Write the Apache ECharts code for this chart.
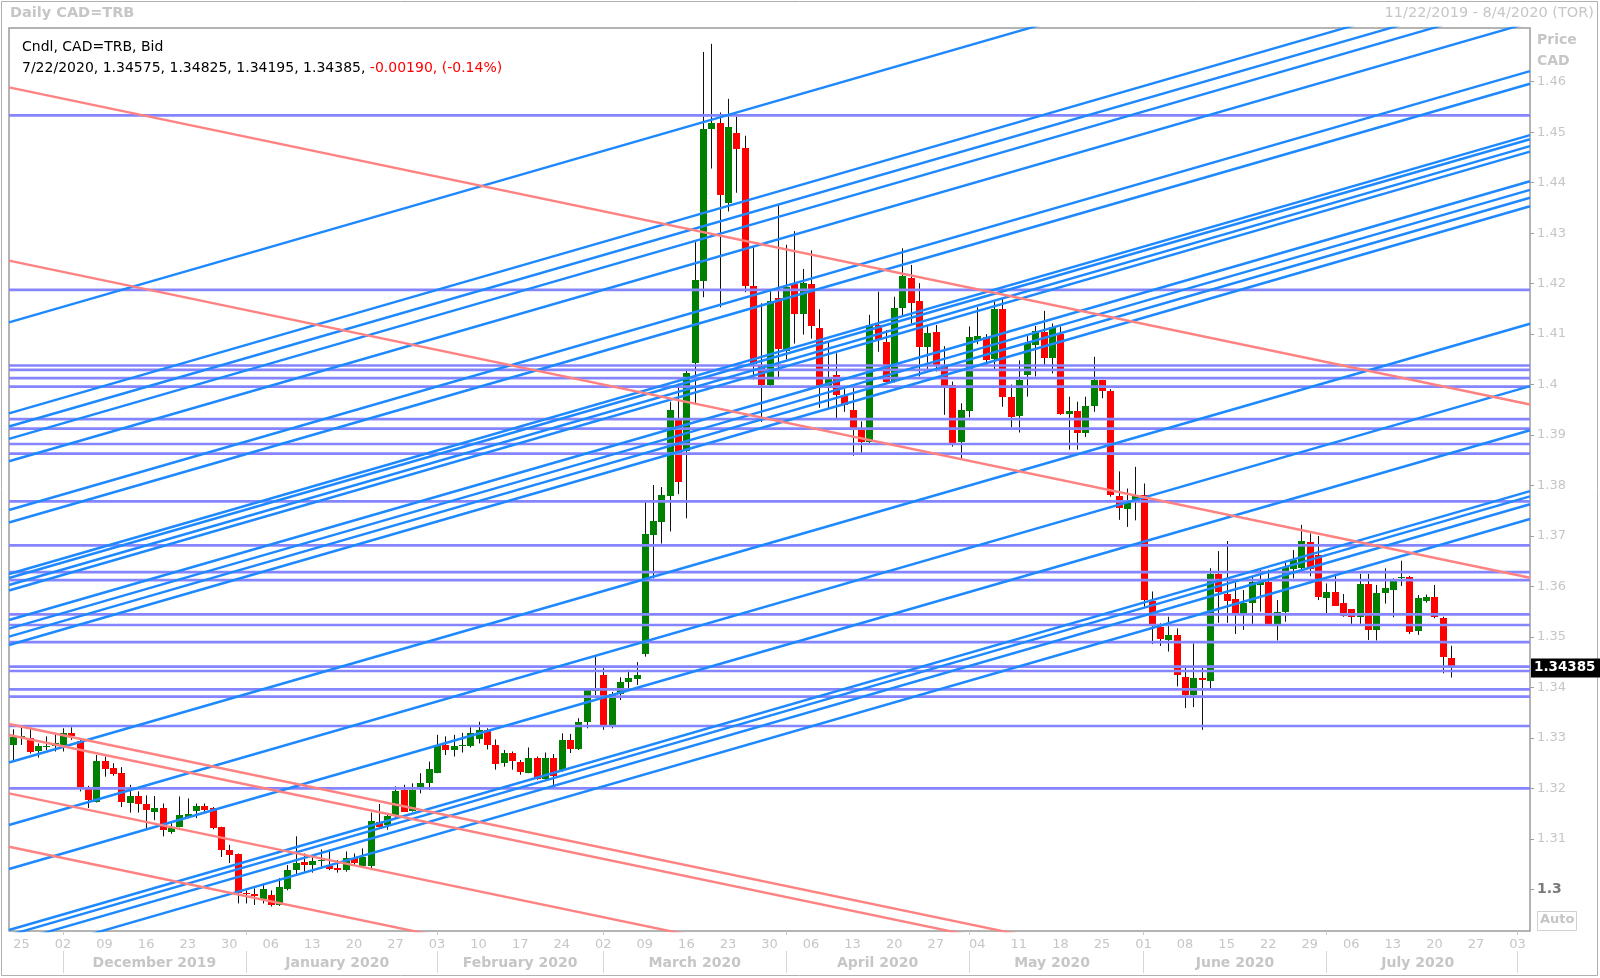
<!DOCTYPE html>
<html><head><meta charset="utf-8">
<script src="https://cdn.jsdelivr.net/npm/echarts@6/dist/echarts.min.js"></script>
<style>html,body{margin:0;padding:0;background:#fff}#c{width:1600px;height:978px}</style>
</head><body><div id="c"></div>
<script>
// ---------- DATA ----------
const opens = [1.3285,1.3302,1.3299,1.3273,1.3282,1.3283,1.3285,1.3309,1.3293,1.3198,1.3174,1.3255,1.3240,1.3230,1.3172,1.3185,1.3169,1.3154,1.3161,1.3114,1.3124,1.3145,1.3156,1.3166,1.3161,1.3123,1.3078,1.3070,1.2993,1.2990,1.2982,1.2989,1.2969,1.3000,1.3038,1.3055,1.3050,1.3058,1.3047,1.3043,1.3040,1.3062,1.3046,1.3046,1.3133,1.3128,1.3145,1.3197,1.3156,1.3202,1.3210,1.3231,1.3286,1.3276,1.3284,1.3284,1.3299,1.3316,1.3286,1.3250,1.3270,1.3253,1.3231,1.3261,1.3220,1.3261,1.3235,1.3295,1.3278,1.3330,1.3392,1.3425,1.3326,1.3387,1.3410,1.3418,1.3465,1.3703,1.3727,1.3779,1.3930,1.3867,1.4042,1.4205,1.4507,1.4518,1.4360,1.4499,1.4469,1.4196,1.4038,1.3998,1.4171,1.4066,1.4199,1.4140,1.4199,1.4113,1.3998,1.4018,1.3978,1.3949,1.3910,1.3886,1.4118,1.4085,1.4006,1.4151,1.4211,1.4166,1.4075,1.4104,1.4037,1.4000,1.3885,1.3947,1.4088,1.4094,1.4050,1.4149,1.3975,1.3938,1.4019,1.4079,1.4105,1.4054,1.4100,1.3942,1.3947,1.3904,1.3958,1.4009,1.3988,1.3779,1.3753,1.3768,1.3782,1.3572,1.3519,1.3495,1.3504,1.3421,1.3385,1.3418,1.3414,1.3625,1.3585,1.3575,1.3547,1.3567,1.3603,1.3609,1.3526,1.3550,1.3636,1.3636,1.3689,1.3662,1.3578,1.3590,1.3568,1.3555,1.3540,1.3605,1.3514,1.3586,1.3593,1.3617,1.3618,1.3511,1.3572,1.3579,1.3537,1.34575];
const highs = [1.3317,1.3320,1.3320,1.3289,1.3303,1.3310,1.3319,1.3321,1.3296,1.3205,1.3266,1.3263,1.3250,1.3242,1.3207,1.3194,1.3186,1.3185,1.3170,1.3131,1.3184,1.3180,1.3170,1.3170,1.3163,1.3124,1.3088,1.3071,1.2998,1.3002,1.3012,1.2998,1.3022,1.3048,1.3105,1.3071,1.3068,1.3079,1.3077,1.3058,1.3075,1.3071,1.3081,1.3152,1.3169,1.3150,1.3204,1.3207,1.3210,1.3230,1.3253,1.3306,1.3303,1.3306,1.3310,1.3321,1.3332,1.3319,1.3297,1.3276,1.3273,1.3256,1.3281,1.3263,1.3271,1.3268,1.3309,1.3308,1.3339,1.3394,1.3464,1.3438,1.3391,1.3420,1.3435,1.3450,1.3767,1.3801,1.3797,1.3966,1.4002,1.4030,1.4282,1.4659,1.4675,1.4539,1.4566,1.4531,1.4493,1.4274,1.4161,1.4185,1.4356,1.4277,1.4304,1.4229,1.4266,1.4149,1.4085,1.4062,1.3991,1.3993,1.3927,1.4138,1.4184,1.4108,1.4174,1.4270,1.4237,1.4201,1.4118,1.4118,1.4076,1.4006,1.3963,1.4115,1.4153,1.4100,1.4164,1.4171,1.4000,1.4048,1.4096,1.4116,1.4146,1.4121,1.4115,1.3976,1.3966,1.3976,1.4055,1.4009,1.3991,1.3828,1.3794,1.3837,1.3804,1.3590,1.3527,1.3540,1.3517,1.3441,1.3487,1.3441,1.3636,1.3670,1.3690,1.3608,1.3593,1.3621,1.3633,1.3633,1.3573,1.3649,1.3672,1.3722,1.3705,1.3700,1.3606,1.3621,1.3585,1.3555,1.3625,1.3625,1.3603,1.3636,1.3616,1.3651,1.3621,1.3583,1.3584,1.3603,1.3540,1.34825];
const lows = [1.3256,1.3286,1.3269,1.3261,1.3276,1.3273,1.3273,1.3296,1.3194,1.3161,1.3172,1.3223,1.3225,1.3163,1.3152,1.3152,1.3118,1.3137,1.3105,1.3110,1.3123,1.3141,1.3141,1.3154,1.3119,1.3064,1.3052,1.2972,1.2972,1.2969,1.2972,1.2966,1.2967,1.2998,1.3029,1.3035,1.3033,1.3045,1.3038,1.3033,1.3035,1.3048,1.3045,1.3038,1.3123,1.3118,1.3141,1.3154,1.3154,1.3190,1.3197,1.3230,1.3266,1.3263,1.3271,1.3281,1.3289,1.3277,1.3237,1.3243,1.3237,1.3227,1.3230,1.3217,1.3217,1.3204,1.3233,1.3270,1.3276,1.3319,1.3385,1.3316,1.3319,1.3375,1.3395,1.3405,1.3461,1.3616,1.3685,1.3709,1.3783,1.3735,1.3962,1.4173,1.4428,1.4153,1.4343,1.4380,1.4183,1.4010,1.3926,1.3994,1.4014,1.4050,1.4081,1.4099,1.4091,1.3954,1.3950,1.3933,1.3946,1.3859,1.3865,1.3884,1.4065,1.4003,1.4004,1.4135,1.4121,1.4016,1.4029,1.4026,1.3940,1.3877,1.3854,1.3935,1.4080,1.4037,1.4030,1.3956,1.3915,1.3905,1.3976,1.4016,1.4039,1.4022,1.3940,1.3871,1.3871,1.3896,1.3946,1.3973,1.3778,1.3732,1.3718,1.3731,1.3560,1.3486,1.3482,1.3471,1.3402,1.3359,1.3361,1.3316,1.3398,1.3528,1.3528,1.3506,1.3514,1.3526,1.3550,1.3526,1.3493,1.3530,1.3616,1.3634,1.3620,1.3573,1.3544,1.3563,1.3540,1.3526,1.3526,1.3494,1.3493,1.3566,1.3539,1.3601,1.3506,1.3504,1.3568,1.3537,1.3428,1.34195];
const closes = [1.3301,1.3303,1.3271,1.3283,1.3283,1.3289,1.3310,1.3303,1.3200,1.3177,1.3255,1.3240,1.3229,1.3172,1.3185,1.3169,1.3157,1.3161,1.3118,1.3121,1.3147,1.3150,1.3166,1.3159,1.3121,1.3078,1.3068,1.2993,1.2992,1.2986,1.3001,1.2969,1.3004,1.3038,1.3052,1.3050,1.3057,1.3059,1.3042,1.3040,1.3063,1.3052,1.3064,1.3135,1.3124,1.3145,1.3194,1.3154,1.3197,1.3211,1.3238,1.3286,1.3276,1.3283,1.3285,1.3309,1.3316,1.3286,1.3248,1.3270,1.3254,1.3233,1.3261,1.3220,1.3261,1.3225,1.3295,1.3278,1.3332,1.3394,1.3394,1.3326,1.3387,1.3410,1.3418,1.3425,1.3703,1.3730,1.3781,1.3950,1.3807,1.4022,1.4207,1.4507,1.4518,1.4375,1.4511,1.4468,1.4195,1.4042,1.3998,1.4165,1.4070,1.4193,1.4140,1.4202,1.4115,1.3998,1.4011,1.3978,1.3960,1.3909,1.3886,1.4118,1.4088,1.4006,1.4151,1.4215,1.4162,1.4075,1.4102,1.4037,1.3997,1.3885,1.3949,1.4094,1.4096,1.4049,1.4149,1.3975,1.3935,1.4009,1.4082,1.4107,1.4054,1.4115,1.3942,1.3947,1.3904,1.3958,1.4009,1.3988,1.3782,1.3755,1.3767,1.3780,1.3573,1.3526,1.3495,1.3504,1.3425,1.3385,1.3418,1.3414,1.3625,1.3590,1.3572,1.3547,1.3568,1.3608,1.3609,1.3526,1.3550,1.3639,1.3653,1.3690,1.3636,1.3578,1.3590,1.3563,1.3542,1.3540,1.3605,1.3514,1.3588,1.3596,1.3610,1.3619,1.3509,1.3577,1.3580,1.3539,1.3459,1.34385];

const firstDay = '2019-11-22';
const lastDay  = '2020-08-04';
const priceTicks = ['1.3','1.31','1.32','1.33','1.34','1.35','1.36','1.37','1.38','1.39','1.4','1.41','1.42','1.43','1.44','1.45','1.46'];
const monthNames = ['January','February','March','April','May','June','July','August','September','October','November','December'];

// horizontal levels (price)
const levels = [1.45334,1.41877,1.40378,1.40292,1.40126,1.39959,1.39316,1.39125,1.38822,1.38632,1.37685,1.36813,1.36282,1.36124,1.35448,1.35236,1.34899,1.34410,1.34325,1.33962,1.33816,1.33235,1.32001];
// ascending trend lines: price at left edge, price at right edge
const blueLines = [[1.41231,1.49924],[1.39430,1.48123],[1.39169,1.47862],[1.38925,1.47618],[1.38481,1.47174],[1.37515,1.46208],[1.37267,1.45960],[1.36247,1.44940],[1.36167,1.44860],[1.36029,1.44722],[1.35920,1.44613],[1.35335,1.44028],[1.35163,1.43856],[1.35008,1.43701],[1.34840,1.43533],[1.32512,1.41205],[1.31274,1.39967],[1.30402,1.39095],[1.29194,1.37887],[1.29091,1.37784],[1.28936,1.37629],[1.28643,1.37336]];
// descending trend lines
const redLines = [[1.45887,1.39605],[1.42456,1.36173],[1.33275,1.26993],[1.33057,1.26775],[1.31902,1.25620],[1.30844,1.24562]];

const yMin = 1.29174, yMax = 1.47064;

// ---------- BUILD ----------
const FONT = 'DejaVu Sans';
const dates = [];
(function(){
  let d = new Date(firstDay + 'T00:00:00Z');
  const end = new Date(lastDay + 'T00:00:00Z').getTime();
  while (d.getTime() <= end) {
    const wd = d.getUTCDay();
    if (wd !== 0 && wd !== 6) dates.push(new Date(d.getTime()));
    d = new Date(d.getTime() + 86400000);
  }
})();
const N = dates.length;
const catData = dates.map(d => d.toISOString().slice(0,10));
const isMonday = dates.map(d => d.getUTCDay() === 1);
const isMonthStart = dates.map((d,i) => i > 0 && d.getUTCMonth() !== dates[i-1].getUTCMonth());
const starts = [0];
isMonthStart.forEach((v,i) => { if (v) starts.push(i); });
starts.push(N);
const monthLabelAt = {};
for (let k = 0; k < starts.length - 1; k++) {
  const s = starts[k], e = starts[k+1];
  if (e - s >= 10) {
    const d = dates[s];
    monthLabelAt[Math.floor((s + e) / 2)] = monthNames[d.getUTCMonth()] + ' ' + d.getUTCFullYear();
  }
}

const candleData = opens.map((o,i) => [i, o, closes[i], lows[i], highs[i]]);

const series = [];
series.push({
  type: 'custom', xAxisIndex: 0, yAxisIndex: 0, data: candleData, z: 2, clip: true, silent: true, animation: false,
  encode: { x: 0, y: [1,2,3,4] },
  renderItem: function (params, api) {
    const x = api.value(0), o = api.value(1), c = api.value(2), l = api.value(3), h = api.value(4);
    const pO = api.coord([x, o]), pC = api.coord([x, c]), pL = api.coord([x, l]), pH = api.coord([x, h]);
    const cx = Math.round(pO[0]);
    const w = 7;
    const top = Math.round(Math.min(pO[1], pC[1]));
    const hgt = Math.max(1, Math.round(Math.abs(pO[1] - pC[1])));
    return { type: 'group', children: [
      { type: 'line', shape: { x1: cx + 0.5, y1: pH[1], x2: cx + 0.5, y2: pL[1] }, style: { stroke: '#111', lineWidth: 1 } },
      { type: 'rect', shape: { x: cx - 3, y: top, width: w, height: hgt }, style: { fill: c >= o ? '#008000' : '#ff0000' } }
    ]};
  }
});
function lineSeries(a, b, color, width, z) {
  return { type: 'line', xAxisIndex: 2, yAxisIndex: 0, data: [[-0.5, a], [N - 0.5, b]], symbol: 'none',
    silent: true, animation: false, clip: true, lineStyle: { color: color, width: width }, z: z };
}
levels.forEach(p => series.push(lineSeries(p, p, '#8585ff', 2.7, 3)));
blueLines.forEach(p => series.push(lineSeries(p[0], p[1], '#1e88ff', 2.4, 4)));
redLines.forEach(p => series.push(lineSeries(p[0], p[1], '#ff8282', 2.4, 5)));

const last = opens.length - 1;
const lastClose = closes[last];

const chg = closes[last] - opens[last];
const pct = chg / opens[last] * 100;
const dl = dates[last];
const dateStr = (dl.getUTCMonth()+1) + '/' + dl.getUTCDate() + '/' + dl.getUTCFullYear();
const ohlcStr = dateStr + ', ' + opens[last].toFixed(5) + ', ' + highs[last].toFixed(5) + ', ' + lows[last].toFixed(5) + ', ' + closes[last].toFixed(5) + ', ';
const chgStr = (chg < 0 ? '-' : '') + Math.abs(chg).toFixed(5) + ', (' + (pct < 0 ? '-' : '') + Math.abs(pct).toFixed(2) + '%)';
const f0 = dates[0], fN = dates[N-1];
const rangeStr = (f0.getUTCMonth()+1) + '/' + f0.getUTCDate() + '/' + f0.getUTCFullYear() + ' - ' + (fN.getUTCMonth()+1) + '/' + fN.getUTCDate() + '/' + fN.getUTCFullYear() + ' (TOR)';

const tickVals = priceTicks.map(Number);
const LG = '#c6c6c6';

const graphics = [
  { id: 'frame', type: 'rect', shape: { x: 1.5, y: 1.5, width: 1596, height: 974 }, style: { fill: 'none', stroke: '#b0b0b0', lineWidth: 1 }, silent: true, z: 0 },
  { id: 'title', type: 'text', left: 10, top: 6, style: { text: 'Daily CAD=TRB', fill: LG, font: 'bold 14.5px "DejaVu Sans"' }, silent: true },
  { id: 'range', type: 'text', right: 6, top: 6, style: { text: rangeStr, fill: LG, font: '14.5px "DejaVu Sans"' }, silent: true },
  { id: 'leg1', type: 'text', left: 22, top: 40, style: { text: 'Cndl, CAD=TRB, Bid', fill: '#000', font: '14px "DejaVu Sans"' }, silent: true, z: 20 },
  { id: 'leg2', type: 'text', left: 22, top: 61, style: { text: '{k|' + ohlcStr + '}{r|' + chgStr + '}', font: '14px "DejaVu Sans"',
      rich: { k: { fill: '#000', fontSize: 14, fontFamily: FONT }, r: { fill: '#ff0000', fontSize: 14, fontFamily: FONT } } }, silent: true, z: 20 },
  { id: 'price', type: 'text', left: 1537, top: 33, style: { text: 'Price', fill: LG, font: 'bold 14px "DejaVu Sans"' }, silent: true },
  { id: 'cad', type: 'text', left: 1537, top: 54, style: { text: 'CAD', fill: LG, font: 'bold 14px "DejaVu Sans"' }, silent: true },
  { id: 'autobox', type: 'rect', shape: { x: 1537.5, y: 911.5, width: 39, height: 19 }, style: { fill: '#fff', stroke: '#d0d0d0', lineWidth: 1 }, silent: true },
  { id: 'auto', type: 'text', left: 1540, top: 913, style: { text: 'Auto', fill: LG, font: 'bold 13px "DejaVu Sans"' }, silent: true }
];

const option = {
  animation: false,
  backgroundColor: '#fff',
  textStyle: { fontFamily: FONT },
  grid: { left: 9, right: 70, top: 28, bottom: 47, show: true, borderColor: '#9c9c9c', borderWidth: 1.5, containLabel: false, outerBoundsMode: 'none' },
  xAxis: [
    { type: 'category', data: catData, boundaryGap: true, position: 'bottom',
      axisLine: { show: false, onZero: false },
      axisTick: { show: true, alignWithLabel: true, interval: (i) => isMonthStart[i], length: 4, lineStyle: { color: '#c8c8c8' } },
      axisLabel: { interval: (i) => isMonday[i], formatter: (v, i) => String(dates[i].getUTCDate()).padStart(2, '0'),
        color: LG, fontSize: 13, fontFamily: FONT, margin: 7 },
      splitLine: { show: false } },
    { type: 'category', data: catData, boundaryGap: true, position: 'bottom', offset: 20,
      axisLine: { show: false, onZero: false },
      axisTick: { show: true, alignWithLabel: true, interval: (i) => isMonthStart[i], length: 22, lineStyle: { color: '#d6d6d6' } },
      axisLabel: { interval: (i) => monthLabelAt[i] !== undefined, formatter: (v, i) => monthLabelAt[i] || '',
        color: LG, fontSize: 14, fontWeight: 'bold', fontFamily: FONT, margin: 5 },
      splitLine: { show: false } },
    { type: 'value', min: -0.5, max: N - 0.5, show: false, axisLine: { onZero: false } }
  ],
  yAxis: [
    { type: 'value', position: 'right', min: yMin, max: yMax, scale: true,
      axisLine: { show: false, onZero: false },
      splitLine: { show: false },
      axisTick: { show: true, customValues: tickVals, length: 4, lineStyle: { color: '#a0a0a0' } },
      axisLabel: { customValues: tickVals, margin: 7, color: LG, fontSize: 13, fontFamily: FONT,
        showMinLabel: true, showMaxLabel: true,
        formatter: (v) => { const s = String(Math.round(v * 100) / 100); return s === '1.3' ? '{b|' + s + '}' : s; },
        rich: { b: { fontWeight: 'bold', color: '#7a7a7a', fontSize: 14, fontFamily: FONT } } } },
    { type: 'value', position: 'right', min: yMin, max: yMax, scale: true, z: 10,
      axisLine: { show: false, onZero: false },
      splitLine: { show: false },
      axisTick: { show: false },
      axisLabel: { customValues: [lastClose], margin: 1, showMinLabel: true, showMaxLabel: true,
        formatter: () => lastClose.toFixed(5),
        color: '#fff', backgroundColor: '#000', fontWeight: 'bold', fontSize: 13.5, fontFamily: FONT,
        padding: [3, 5, 2, 3] } }
  ],
  graphic: graphics,
  series: series
};
const chart = echarts.init(document.getElementById('c'), null, { renderer: 'canvas', width: 1600, height: 978 });
chart.setOption(option);
</script>
</body></html>
